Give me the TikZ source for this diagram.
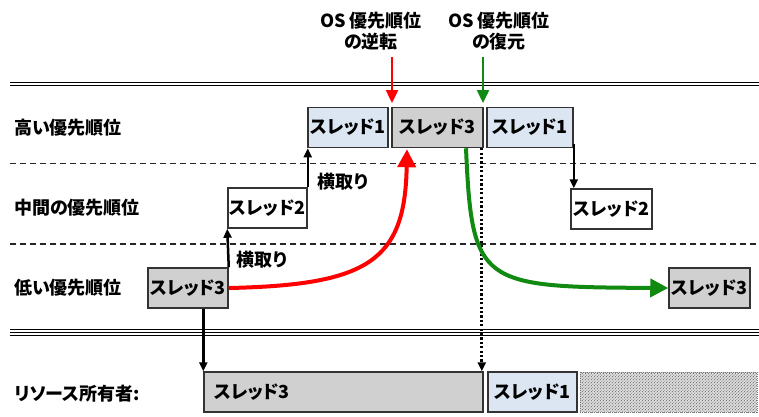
\documentclass[tikz,border=0pt]{standalone}
\usepackage{fontspec}
\setmainfont{Noto Sans CJK JP}[RawFeature=+palt]
\usetikzlibrary{arrows.meta,patterns}
\definecolor{boxblue}{HTML}{DCE6F2}
\definecolor{boxgray}{HTML}{D0D0D0}
\definecolor{edgecol}{HTML}{333333}
\definecolor{ggreen}{HTML}{118A11}
\begin{document}
\begin{tikzpicture}[x=1pt,y=-1pt,
  font=\fontsize{18}{21}\selectfont\bfseries,
  box/.style={draw=edgecol,line width=1.5pt,inner sep=0pt,minimum height=40pt},
  bluebox/.style={box,fill=boxblue},
  graybox/.style={box,fill=boxgray},
  whitebox/.style={box,fill=white},
  lvl/.style={anchor=west,inner sep=0pt},
  blk/.style={line width=2.5pt,-{Triangle[length=9pt,width=8pt]}},
  dotarr/.style={line width=2.6pt,dash pattern=on 2.2pt off 2.2pt,-{Triangle[length=9pt,width=8pt]}},
  toparr/.style={line width=2.4pt,-{Triangle[length=13pt,width=12pt]}},
  bigarr/.style={line width=4pt,-{Triangle[length=18pt,width=18pt]}},
  sep/.style={line width=1.3pt,dash pattern=on 6pt off 4pt,black!85}]
\useasboundingbox (0,0) rectangle (759,416);

% separators
\draw[line width=1.8pt] (10,82.5) -- (759,82.5);
\draw[line width=1pt] (10,85.5) -- (759,85.5);
\draw[sep] (10,163.5) -- (759,163.5);
\draw[sep] (10,244) -- (759,244);
\draw[line width=1.4pt] (10,329.3) -- (759,329.3);
\draw[line width=1.1pt] (10,332.3) -- (759,332.3);
\draw[line width=1.1pt] (10,335.3) -- (759,335.3);

% level labels
\node[lvl] (lh) at (14,128) {高い優先順位};
\node[lvl] (lm) at (14,208) {中間の優先順位};
\node[lvl] (ll) at (14,288) {低い優先順位};
\node[lvl] (lr) at (14,394) {リソース所有者:};

% thread boxes
\node[graybox,minimum width=80pt]  (L3a) at (188,288)   {スレッド3};
\node[whitebox,minimum width=79pt] (M2a) at (267.5,208) {スレッド2};
\node[bluebox,minimum width=80pt]  (H1a) at (348,127.5) {スレッド1};
\node[graybox,minimum width=91pt]  (H3)  at (437.5,127.5) {スレッド3};
\node[bluebox,minimum width=86pt]  (H1b) at (530,127.5) {スレッド1};
\node[whitebox,minimum width=81pt] (M2b) at (611.5,209) {スレッド2};
\node[graybox,minimum width=81pt]  (L3b) at (709.5,288) {スレッド3};

% resource owner row
\node[graybox,minimum width=279pt,text width=259pt,align=left] (R3) at (343.5,392) {スレッド3};
\node[bluebox,minimum width=89pt] (R1) at (532.5,392) {スレッド1};
\node[minimum width=177pt,minimum height=40pt,inner sep=0pt,fill=gray!25,
  postaction={pattern=north east lines,pattern color=black!65},
  draw=gray,densely dotted,line width=1pt] (free) at (668.5,392) {};

% top labels
\node[align=center] (invl) at (371,31) {OS 優先順位\\の逆転};
\node[align=center] (resl) at (499,31) {OS 優先順位\\の復元};
\coordinate (invs) at (392,57);
\coordinate (ress) at (483,57);
\draw[toparr,red] (invs) -- (invs |- 0,103);
\draw[toparr,ggreen] (ress) -- (ress |- 0,103);

% preemption arrows
\draw[blk] (L3a.north east) -- (M2a.south west);
\node (pre1) at (262,260) {横取り};
\draw[blk] (M2a.north east) -- (M2a.north east |- H1a.south);
\node (pre2) at (343,182) {横取り};
\draw[blk] ([yshift=4pt]H1b.south east) -- (H1b.south east |- M2b.north);

% ownership arrows
\draw[blk] (R3.north west |- L3a.south) -- (R3.north west);
\draw[dotarr] ([xshift=-2pt]R3.north east |- H3.south) -- ([xshift=-2pt]R3.north east);

% priority curves
\draw[bigarr,red] (L3a.east) .. controls (370,285) and (405,260) .. ([xshift=-30.5pt,yshift=-1pt]H3.south);
\draw[bigarr,ggreen] ([xshift=28.5pt]H3.south) .. controls (472,285) and (480,287) .. (L3b.west);
\end{tikzpicture}
\end{document}
